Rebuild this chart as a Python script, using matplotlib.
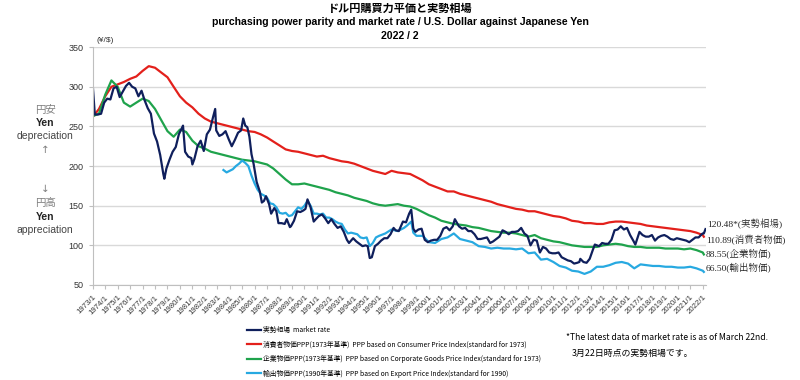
import matplotlib
matplotlib.use("Agg")
import matplotlib.pyplot as plt
import matplotlib.dates as mdates
from matplotlib.ticker import FuncFormatter
import pandas as pd

plt.rcParams['font.family'] = ['Liberation Sans', 'Noto Sans CJK JP', 'DejaVu Sans']

# ---------------- data ----------------
market_dates = [
 "1973-01","1973-03","1973-06","1973-09","1973-12",
 "1974-03","1974-06","1974-09","1974-12",
 "1975-03","1975-06","1975-09","1975-12",
 "1976-03","1976-06","1976-09","1976-12",
 "1977-03","1977-06","1977-09","1977-12",
 "1978-03","1978-06","1978-09","1978-10","1978-12",
 "1979-03","1979-06","1979-09","1979-12",
 "1980-03","1980-04","1980-06","1980-09","1980-12",
 "1981-01","1981-03","1981-06","1981-09","1981-12",
 "1982-03","1982-06","1982-09","1982-11","1982-12",
 "1983-03","1983-06","1983-09","1983-12",
 "1984-03","1984-06","1984-09","1984-12",
 "1985-02","1985-04","1985-06","1985-08","1985-10","1985-12",
 "1986-03","1986-06","1986-08","1986-10","1986-12",
 "1987-03","1987-05","1987-08","1987-10","1987-12",
 "1988-03","1988-06","1988-08","1988-11","1988-12",
 "1989-03","1989-06","1989-09","1989-12",
 "1990-02","1990-04","1990-07","1990-10","1990-12",
 "1991-03","1991-06","1991-09","1991-12",
 "1992-03","1992-06","1992-09","1992-12",
 "1993-03","1993-06","1993-08","1993-12",
 "1994-03","1994-06","1994-09","1994-12",
 "1995-02","1995-04","1995-06","1995-09","1995-12",
 "1996-03","1996-06","1996-09","1996-12",
 "1997-03","1997-05","1997-08","1997-12",
 "1998-03","1998-06","1998-08","1998-10","1998-12",
 "1999-03","1999-06","1999-09","1999-12",
 "2000-03","2000-06","2000-09","2000-12",
 "2001-03","2001-06","2001-09","2001-12",
 "2002-02","2002-06","2002-09","2002-12",
 "2003-03","2003-06","2003-09","2003-12",
 "2004-03","2004-06","2004-09","2004-12",
 "2005-03","2005-06","2005-09","2005-12",
 "2006-03","2006-06","2006-09","2006-12",
 "2007-03","2007-06","2007-09","2007-12",
 "2008-03","2008-06","2008-09","2008-12",
 "2009-03","2009-06","2009-09","2009-12",
 "2010-03","2010-06","2010-09","2010-12",
 "2011-03","2011-06","2011-09","2011-12",
 "2012-02","2012-03","2012-06","2012-09","2012-12",
 "2013-03","2013-05","2013-09","2013-12",
 "2014-03","2014-06","2014-09","2014-12",
 "2015-03","2015-06","2015-09","2015-12",
 "2016-03","2016-06","2016-08","2016-12",
 "2017-03","2017-06","2017-09","2017-12",
 "2018-03","2018-06","2018-09","2018-12",
 "2019-03","2019-06","2019-09","2019-12",
 "2020-03","2020-06","2020-09","2020-12",
 "2021-03","2021-06","2021-09","2021-12",
 "2022-01","2022-02","2022-03-22"]
market_values = [
 301,265,265,266,280,
 285,284,298,300,
 287,294,301,305,
 300,298,288,295,
 283,273,266,241,
 231,214,190,184,197,
 208,218,224,240,
 248,251,218,212,210,
 202,209,225,232,219,
 240,246,262,272,245,
 238,240,244,234,
 225,233,242,245,
 260,251,249,237,215,203,
 180,168,154,156,162,
 152,140,147,143,128,
 128,127,133,123,124,
 131,143,142,144,
 146,158,148,130,133,
 137,139,134,128,
 133,127,122,124,
 117,107,103,109,
 105,102,99,100,
 99,84,85,99,102,
 106,109,109,114,
 122,119,118,130,
 129,140,145,121,117,
 120,121,107,104,
 106,107,107,112,
 121,123,119,124,
 133,124,121,122,
 118,118,114,108,
 108,109,110,103,
 105,108,111,119,
 117,114,117,117,
 118,122,115,112,
 100,107,106,91,
 98,96,91,90,
 90,91,85,83,
 81,80,77,78,
 79,83,79,78,83,
 94,101,99,103,
 102,102,107,119,
 120,124,120,122,
 113,106,101,117,
 113,111,111,113,
 106,110,112,113,
 111,108,107,109,
 108,107,106,104,
 107,110,110,114,
 115,115,120.48]

ppp_dates = [f"{y}-{m:02d}" for y in range(1973, 2022) for m in (1, 7)] + ["2022-01", "2022-02"]
cpi_values = [
 262,272, 288,300, 303,306, 310,313, 320,326, 324,318, 312,300, 288,280,
 274,266, 260,256, 254,252, 250,248, 246,244, 243,240, 236,231, 226,221,
 219,218, 216,214, 212,213, 210,208, 206,205, 203,200, 197,194, 192,190,
 194,192, 191,190, 186,182, 177,174, 171,168, 168,165, 163,161, 159,157,
 155,152, 150,148, 146,145, 143,143, 141,139, 137,136, 134,131, 130,128,
 128,127, 127,129, 130,130, 129,128, 127,125, 124,123, 122,121, 120,119,
 118,116, 113,110.89]
cgpi_values = [
 263,266, 290,308, 300,280, 275,280, 285,282, 272,258, 244,237, 246,243,
 232,225, 222,218, 216,214, 212,210, 208,207, 206,204, 202,197, 190,183,
 177,177, 178,176, 174,172, 170,167, 165,163, 160,158, 156,153, 151,150,
 151,152, 150,149, 146,142, 138,135, 131,129, 127,126, 125,123, 122,120,
 118,117, 116,116, 115,113, 111,113, 109,107, 105,104, 102,100, 99,98,
 98,98, 100,101, 102,101, 99,98, 98,97, 97,97, 96,96, 96,95,
 96,94, 91,88.55]

export_dates = [
 "1983-07","1983-10","1984-01","1984-04","1984-07","1984-10",
 "1985-01","1985-04","1985-07","1985-10","1986-01","1986-04","1986-07","1986-10",
 "1987-01","1987-04","1987-07","1987-10","1988-01","1988-04","1988-07","1988-10",
 "1989-01","1989-04","1989-07","1989-10","1990-01","1990-04","1990-07","1990-10",
 "1991-01","1991-04","1991-07","1991-10","1992-01","1992-04","1992-07","1992-10",
 "1993-01","1993-04","1993-07","1993-10","1994-01","1994-04","1994-07","1994-10",
 "1995-01","1995-04","1995-07","1995-10","1996-01","1996-07","1997-01","1997-07",
 "1998-01","1998-04","1998-08","1998-10","1999-01","1999-07","2000-01","2000-07",
 "2001-01","2001-07","2002-01","2002-07","2003-01","2003-07","2004-01","2004-07",
 "2005-01","2005-07","2006-01","2006-07","2007-01","2007-07","2008-01","2008-07",
 "2009-01","2009-07","2010-01","2010-07","2011-01","2011-07","2012-01","2012-07",
 "2013-01","2013-07","2014-01","2014-07","2015-01","2015-07","2016-01","2016-07",
 "2017-01","2017-07","2018-01","2018-07","2019-01","2019-07","2020-01","2020-07",
 "2021-01","2021-07","2022-01","2022-02"]
export_values = [
 195,192,194,196,200,203,
 207,204,200,188,178,170,165,163,
 160,153,152,148,141,140,141,137,
 138,143,148,146,150,156,150,140,
 140,139,140,135,135,133,130,128,
 127,120,115,116,115,114,110,109,
 110,99,103,110,112,115,120,118,
 122,125,130,116,112,112,104,103,
 108,110,115,108,106,104,99,98,
 96,97,96,96,95,96,90,91,
 82,83,79,74,72,68,67,64,
 67,73,73,75,78,79,77,71,
 76,75,74,74,73,73,72,72,
 73,71,68,66.5]

series_names = ["実勢相場  market rate",
                "消費者物価PPP(1973年基準)  PPP based on Consumer Price Index(standard for 1973)",
                "企業物価PPP(1973年基準)  PPP based on Corporate Goods Price Index(standard for 1973)",
                "輸出物価PPP(1990年基準)  PPP based on Export Price Index(standard for 1990)"]
end_labels = ["120.48*(実勢相場)", "110.89(消費者物価)", "88.55(企業物価)", "66.50(輸出物価)"]
colors = ["#0f1f5c", "#e3201b", "#1fa34c", "#27a9e1"]

# ---------------- figure ----------------
fig = plt.figure(figsize=(8, 3.8), dpi=100)
ax = fig.add_axes([0.116, 0.25, 0.766, 0.626])

md = pd.to_datetime(market_dates, format='ISO8601')
pd_ = pd.to_datetime(ppp_dates, format='ISO8601')
ed = pd.to_datetime(export_dates, format='ISO8601')

l_cpi, = ax.plot(pd_, cpi_values, color=colors[1], lw=1.6)
l_cg, = ax.plot(pd_, cgpi_values, color=colors[2], lw=1.6)
l_ex, = ax.plot(ed, export_values, color=colors[3], lw=1.6)
l_mk, = ax.plot(md, market_values, color=colors[0], lw=1.6)

ax.set_ylim(50, 350)
ax.set_yticks(range(50, 351, 50))
ax.set_xlim(pd.Timestamp("1973-01-01"), pd.Timestamp("2022-03-25"))
ax.xaxis.set_major_locator(mdates.YearLocator())
ax.xaxis.set_major_formatter(FuncFormatter(lambda v, p: f"{mdates.num2date(v).year}/1"))
ax.grid(axis='y', color='#d9d9d9', lw=1)
ax.set_axisbelow(True)
for s in ('top', 'right'):
    ax.spines[s].set_visible(False)
for s in ('left', 'bottom'):
    ax.spines[s].set_color('#bfbfbf')
ax.tick_params(axis='y', labelsize=6.5, colors='#333333', length=3, color='#bfbfbf')
ax.tick_params(axis='x', labelsize=5.6, colors='#333333', length=3, color='#bfbfbf')
for lbl in ax.get_xticklabels():
    lbl.set_rotation(45)
    lbl.set_ha('right')
    lbl.set_rotation_mode('anchor')

# end labels
ends = [(md[-1], market_values[-1], 5), (pd_[-1], cpi_values[-1], -3),
        (pd_[-1], cgpi_values[-1], 1), (pd_[-1], export_values[-1], 4)]
for (xd, yv, dy), txt in zip(ends, end_labels):
    ax.annotate(txt, xy=(xd, yv), xytext=(2, dy), textcoords='offset pixels',
                fontsize=6.8, va='center', ha='left', color='#222222',
                family=['Liberation Serif', 'Noto Serif CJK JP', 'Noto Sans CJK JP'],
                annotation_clip=False)

# titles
fig.text(0.5, 1 - 8/380, "ドル円購買力平価と実勢相場", ha='center', va='center',
         fontsize=8, fontweight='bold', family=['Noto Sans CJK JP'])
fig.text(0.5, 1 - 22/380, "purchasing power parity and market rate / U.S. Dollar against Japanese Yen",
         ha='center', va='center', fontsize=7.6, fontweight='bold')
fig.text(0.5, 1 - 36/380, "2022 / 2", ha='center', va='center', fontsize=7.6, fontweight='bold')
fig.text(0.131, 1 - 41/380, "(¥/$)", ha='center', va='center', fontsize=6, color='#333333')

# side labels
side = [("円安", 110, '#7f7f7f', 'normal', ['Noto Sans CJK JP']),
        ("Yen", 123, '#222222', 'bold', None),
        ("depreciation", 136, '#444444', 'normal', None),
        ("↑", 150, '#7f7f7f', 'normal', ['DejaVu Sans']),
        ("↓", 189, '#7f7f7f', 'normal', ['DejaVu Sans']),
        ("円高", 203, '#7f7f7f', 'normal', ['Noto Sans CJK JP']),
        ("Yen", 217, '#222222', 'bold', None),
        ("appreciation", 230, '#444444', 'normal', None)]
for t, yp, c, w, fam in side:
    kw = dict(ha='center', va='center', fontsize=7.5, color=c, fontweight=w)
    if fam:
        kw['family'] = fam
    fig.text(45/800, 1 - yp/380, t, **kw)

# legend
leg = fig.legend([l_mk, l_cpi, l_cg, l_ex], series_names, loc='upper left',
                 bbox_to_anchor=(247/800, 1 - 326/380), bbox_transform=fig.transFigure,
                 frameon=False, borderpad=0, borderaxespad=0, handlelength=2.0,
                 handletextpad=0.3, labelspacing=0.95,
                 prop={'family': ['Noto Sans CJK JP'], 'size': 4.9})

fig.text(566/800, 1 - 338/380, "*The latest data of market rate is as of March 22nd.",
         ha='left', va='center', fontsize=6.2, family=['Noto Sans CJK JP'])
fig.text(572/800, 1 - 353/380, "3月22日時点の実勢相場です。",
         ha='left', va='center', fontsize=6.4, family=['Noto Sans CJK JP'])

fig.savefig("out.png", dpi=100)
